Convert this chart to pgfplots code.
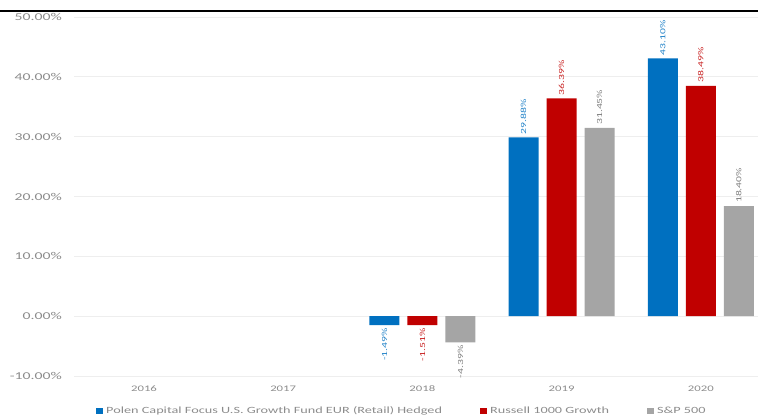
\documentclass[border=0pt]{standalone}
\usepackage{pgfplots}
\pgfplotsset{compat=1.18}
\usepackage{fontspec}
\setmainfont[FakeStretch=1.5]{Carlito}
\definecolor{polen}{HTML}{0070C0}
\definecolor{russ}{HTML}{C00000}
\definecolor{spx}{HTML}{A5A5A5}
\definecolor{ticktxt}{HTML}{8C8C8C}
\definecolor{gridc}{HTML}{EEEEEE}
\begin{document}
\begin{tikzpicture}[x=1pt,y=1pt]
\path[use as bounding box] (0,0) rectangle (758,419);
\begin{axis}[
  at={(74.4pt,43pt)}, anchor=south west,
  scale only axis, width=696pt, height=359pt,
  xmin=-0.5, xmax=4.5, ymin=-10, ymax=50,
  axis line style={draw=none},
  ybar=8pt, bar width=30pt,
  xtick={0,1,2,3,4},
  xticklabels={2016,2017,2018,2019,2020},
  ytick={-10,0,10,20,30,40,50},
  yticklabel={\pgfmathprintnumber[fixed,fixed zerofill,precision=2]{\tick}\%},
  /pgf/number format/assume math mode=true,
  major tick length=0pt,
  ymajorgrids, grid style={gridc, line width=0.8pt},
  tick label style={text=ticktxt},
  xticklabel style={font=\fontsize{8.5}{10}\selectfont, yshift=-6pt},
  yticklabel style={font=\fontsize{10.5}{12}\selectfont, xshift=-9pt},
  visualization depends on={y \as \rawy},
  nodes near coords={\pgfmathprintnumber[fixed,fixed zerofill,precision=2]{\pgfplotspointmeta}\%},
  every node near coord/.append style={font=\fontsize{7.8}{9}\selectfont, rotate=90, inner sep=3pt,
     /utils/exec={\pgfmathparse{\rawy<0}\ifdim\pgfmathresult pt>0.5pt \gdef\myanc{east}\else\gdef\myanc{west}\fi},
     anchor=\myanc},
  legend style={at={(0.0267,-0.0975)}, anchor=west, draw=none, fill=none,
     font=\fontsize{9.5}{11}\selectfont, text=ticktxt, column sep=1pt},
  legend columns=3,
  legend cell align=left,
  legend image code/.code={\fill[#1] (0pt,-3pt) rectangle (7pt,3pt);},
]
\addplot[fill=polen, draw=none, every node near coord/.append style={text=polen!85}]
  coordinates {(2,-1.49) (3,29.88) (4,43.10)};
\addplot[fill=russ, draw=none, every node near coord/.append style={text=russ!85}]
  coordinates {(2,-1.51) (3,36.39) (4,38.49)};
\addplot[fill=spx, draw=none, every node near coord/.append style={text=gray}]
  coordinates {(2,-4.39) (3,31.45) (4,18.40)};
\legend{Polen Capital Focus U.S. Growth Fund EUR (Retail) Hedged\rule{35pt}{0pt}, Russell 1000 Growth\rule{35pt}{0pt}, S\&P 500}
\end{axis}
\draw[line width=2pt] (0,408) -- (758,408);
\end{tikzpicture}
\end{document}
